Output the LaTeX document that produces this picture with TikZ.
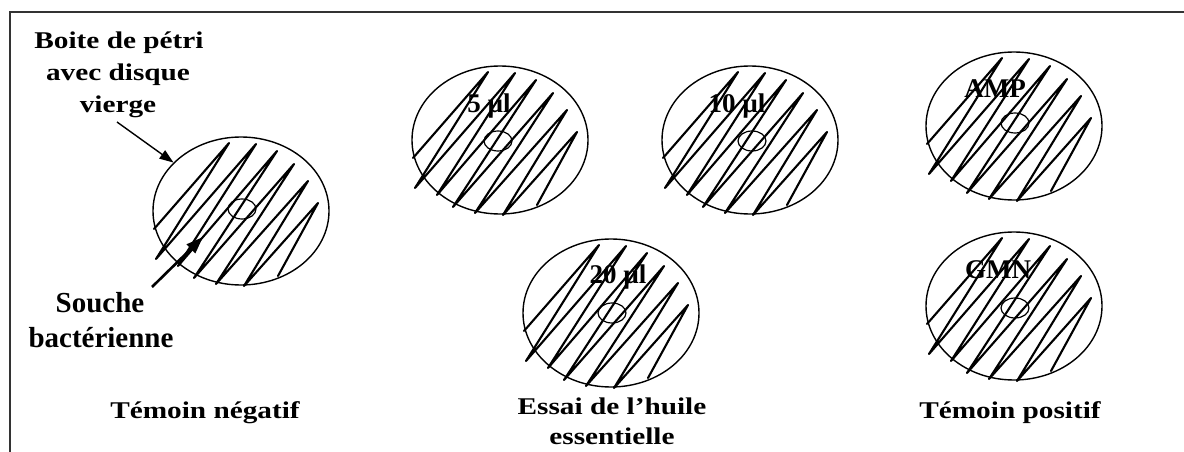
\documentclass[tikz,border=0pt]{standalone}
\usepackage{fontspec}
\setmainfont{Liberation Serif}
\newfontfamily\widefont[FakeStretch=1.22]{Liberation Serif}
\usetikzlibrary{shapes.geometric,arrows.meta}

\tikzset{
  plate/.style={draw, ellipse, line width=1.4pt, minimum width=176pt,
                minimum height=148pt, inner sep=0pt},
  disc/.style={draw, ellipse, line width=1.2pt, minimum width=28pt,
               minimum height=20pt, inner sep=0pt},
  caption/.style={font=\widefont\bfseries\fontsize{24}{28}\selectfont,
                  anchor=base, inner sep=0pt},
  bigcaption/.style={font=\bfseries\fontsize{29}{32}\selectfont,
                     anchor=base, inner sep=0pt},
  dose/.style={font=\bfseries\fontsize{27}{30}\selectfont,
               anchor=base, inner sep=0pt},
  % zigzag streaks of the bacterial lawn, relative to the plate centre
  streak/.pic={
    \draw[line width=2.1pt, line join=round, line cap=round]
      (-87,18) -- (-12,-68) -- (-85,48) -- (15,-67) -- (-63,55)
      -- (36,-60) -- (-47,67) -- (53,-47) -- (-25,73) -- (67,-30)
      -- (3,75) -- (77,-8) -- (37,65);
  },
  pointer/.style={-{Triangle[length=14pt,width=10pt]}, line width=1.4pt},
  bigpointer/.style={-{Triangle[length=17pt,width=12pt]}, line width=2.6pt},
}

\begin{document}
\begin{tikzpicture}[x=1pt,y=-1pt]
\useasboundingbox (0,0) rectangle (1184,452);

% frame
\coordinate (fbl) at (10,452);
\coordinate (ftr) at (1184,12);
\draw[line width=2pt, black!80] (fbl) |- (ftr);

% negative control
\pic at (241,211) {streak};
\node[plate] (negplate) at (241,211) {};
\node[disc] (negdisc) at (242,209) {};

% essential oil trials
\pic at (500,140) {streak};
\node[plate] (p5) at (500,140) {};
\node[disc] (d5) at (498,141) {};
\node[dose] (l5) at (489,113) {5 µl};

\pic at (750,140) {streak};
\node[plate] (p10) at (750,140) {};
\node[disc] (d10) at (752,141) {};
\node[dose] (l10) at (737,113) {10 µl};

\pic at (611,313) {streak};
\node[plate] (p20) at (611,313) {};
\node[disc] (d20) at (612,313) {};
\node[dose] (l20) at (618,283) {20 µl};

% positive controls
\pic at (1014,126) {streak};
\node[plate] (pamp) at (1014,126) {};
\node[disc] (damp) at (1015,123) {};
\node[dose] (lamp) at (995,97) {AMP};

\pic at (1014,306) {streak};
\node[plate] (pgmn) at (1014,306) {};
\node[disc] (dgmn) at (1015,308) {};
\node[dose] (lgmn) at (998,278) {GMN};

% annotations
\node[caption] (t1) at (119,49) {Boite de pétri};
\node[caption] (t2) at (118,81) {avec disque};
\node[caption] (t3) at (118,113) {vierge};
\node[bigcaption] (s1) at (100,312) {Souche};
\node[bigcaption] (s2) at (101,347) {bactérienne};

\coordinate (vtail) at (117,122);
\draw[pointer] (vtail) -- (negplate);
\coordinate (stail) at (152,287);
\coordinate (stip) at (203,237);
\draw[bigpointer] (stail) -- (stip);

% group captions
\node[caption] (cneg) at (205,418) {Témoin négatif};
\node[caption] (cess1) at (612,414) {Essai de l’huile};
\node[caption] (cess2) at (612,444) {essentielle};
\node[caption] (cpos) at (1010,418) {Témoin positif};
\end{tikzpicture}
\end{document}
